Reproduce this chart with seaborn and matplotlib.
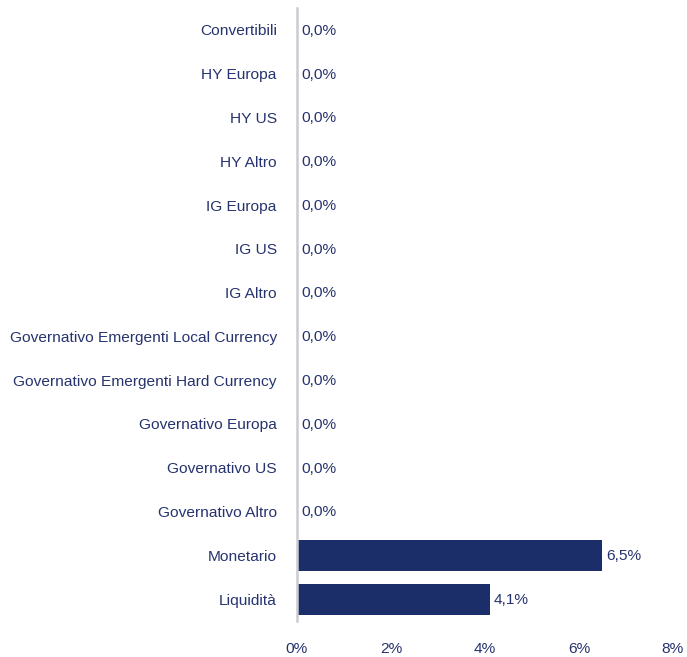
import matplotlib
matplotlib.use("Agg")
import matplotlib.pyplot as plt
import seaborn as sns
import pandas as pd

categories = ["Convertibili", "HY Europa", "HY US", "HY Altro", "IG Europa", "IG US", "IG Altro",
              "Governativo Emergenti Local Currency", "Governativo Emergenti Hard Currency",
              "Governativo Europa", "Governativo US", "Governativo Altro", "Monetario", "Liquidità"]
values = [0.0, 0.0, 0.0, 0.0, 0.0, 0.0, 0.0, 0.0, 0.0, 0.0, 0.0, 0.0, 6.5, 4.1]
xticks = [0, 2, 4, 6, 8]

sns.set_style("white")
plt.rcParams['font.family'] = ['Liberation Sans', 'DejaVu Sans']

navy = "#1b2e69"
textc = "#27336e"
fs = 11.15

df = pd.DataFrame({"cat": categories, "val": values})
fig = plt.figure(figsize=(6.87, 6.57), dpi=100)
ax = fig.add_axes([0.4323, 0.0548, 0.5473, 0.933])
sns.barplot(data=df, x="val", y="cat", orient="h", color=navy, width=0.71, ax=ax,
            saturation=1, linewidth=0)
ax.set_xlim(0, 8)
ax.set_ylim(13.5, -0.5)
ax.set_xticks(xticks)
ax.set_xticklabels([f"{t}%" for t in xticks], fontsize=fs, color=textc)
ax.tick_params(axis="y", labelsize=fs, labelcolor=textc, length=0, pad=14.5)
ax.tick_params(axis="x", length=0, pad=15)
ax.set_xlabel("")
ax.set_ylabel("")
for s in ["top", "right", "bottom"]:
    ax.spines[s].set_visible(False)
ax.spines["left"].set_color("#c9ccd3")
ax.spines["left"].set_linewidth(1.8)
for i, v in enumerate(values):
    ax.annotate(f"{v:.1f}%".replace(".", ","), (v, i), xytext=(3, -0.6), textcoords="offset points",
                va="center", ha="left", fontsize=fs, color=textc)
fig.savefig("out.png", dpi=100)
